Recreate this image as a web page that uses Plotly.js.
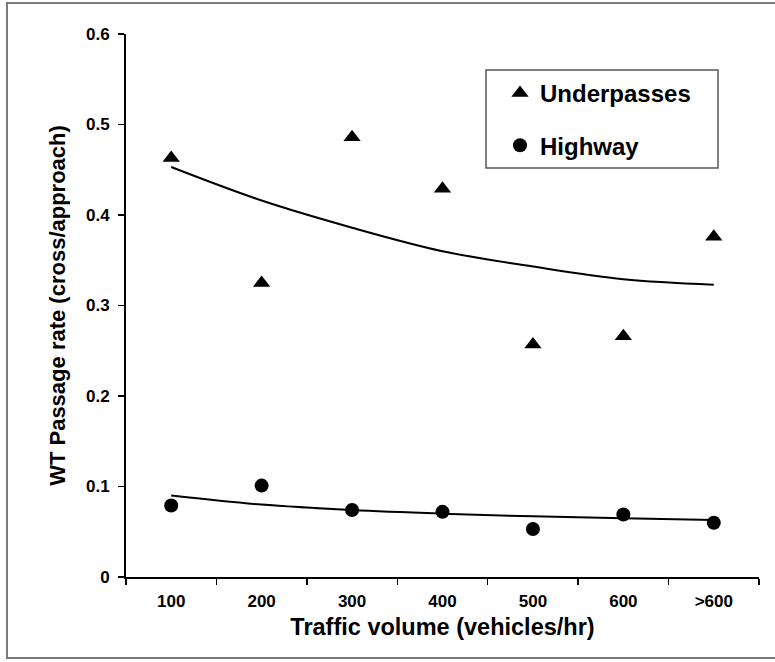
<!DOCTYPE html>
<html>
<head>
<meta charset="utf-8">
<script src="https://cdn.plot.ly/plotly-3.0.1.min.js"></script>
<style>
html,body{margin:0;padding:0;background:#fff;}
#chart{width:775px;height:662px;}
</style>
</head>
<body>
<div id="chart"></div>
<script>
// ---- data ----
var categories = ['100', '200', '300', '400', '500', '600', '>600'];
var underpasses = [0.463, 0.325, 0.486, 0.429, 0.257, 0.266, 0.376];
var highway = [0.079, 0.101, 0.074, 0.072, 0.053, 0.069, 0.060];
var underpassTrend = [0.453, 0.416, 0.386, 0.360, 0.343, 0.329, 0.323];
var highwayTrend = [0.090, 0.080, 0.074, 0.070, 0.067, 0.065, 0.063];
var yTicks = [0, 0.1, 0.2, 0.3, 0.4, 0.5, 0.6];
var yTickLabels = ['0', '0.1', '0.2', '0.3', '0.4', '0.5', '0.6'];

var FONT = 'Arial, "Liberation Sans", Helvetica, sans-serif';

var W = 775, H = 662;
var M = {l: 126, r: 16, t: 34, b: 85};
var pw = W - M.l - M.r, ph = H - M.t - M.b;
function px2x(p) { return (p - M.l) / pw; }
function px2y(p) { return (H - M.b - p) / ph; }

var traces = [
  {
    x: categories, y: underpassTrend, type: 'scatter', mode: 'lines',
    line: {color: '#000', width: 2, shape: 'spline'},
    showlegend: false, hoverinfo: 'skip'
  },
  {
    x: categories, y: highwayTrend, type: 'scatter', mode: 'lines',
    line: {color: '#000', width: 2, shape: 'spline'},
    showlegend: false, hoverinfo: 'skip'
  },
  {
    x: categories, y: underpasses, type: 'scatter', mode: 'markers',
    name: 'Underpasses', legendgroup: 'a',
    marker: {symbol: 'triangle-up', size: 15, color: '#000'}
  },
  {
    x: categories, y: highway, type: 'scatter', mode: 'markers',
    name: 'Highway', legendgroup: 'b',
    marker: {symbol: 'circle', size: 14, color: '#000'}
  }
];

var layout = {
  width: W, height: H,
  margin: M,
  paper_bgcolor: '#fff', plot_bgcolor: '#fff',
  font: {family: FONT, color: '#000'},
  showlegend: true,
  legend: {
    x: px2x(500), y: px2y(71), xanchor: 'left', yanchor: 'top',
    bgcolor: 'rgba(0,0,0,0)', borderwidth: 0,
    font: {family: FONT, size: 24, weight: 'bold', color: '#000'},
    tracegroupgap: 18, traceorder: 'grouped'
  },
  xaxis: {
    type: 'category', range: [-0.5, 6.5],
    showline: true, linecolor: '#000', linewidth: 2,
    ticks: 'outside', tickson: 'boundaries', ticklen: 6, tickwidth: 1.5, tickcolor: '#000',
    showgrid: false, zeroline: false,
    tickfont: {family: FONT, size: 17, weight: 'bold', color: '#000'},
    ticklabelstandoff: 8,
    title: {text: 'Traffic volume (vehicles/hr)', font: {family: FONT, size: 23.5, weight: 'bold', color: '#000'}, standoff: 8}
  },
  yaxis: {
    range: [0, 0.6], tickvals: yTicks, ticktext: yTickLabels,
    showline: true, linecolor: '#000', linewidth: 2,
    ticks: 'outside', ticklen: 6, tickwidth: 1.5, tickcolor: '#000',
    showgrid: false, zeroline: false,
    tickfont: {family: FONT, size: 17, weight: 'bold', color: '#000'},
    ticklabelstandoff: 5,
    title: {text: 'WT Passage rate (cross/approach)', font: {family: FONT, size: 22, weight: 'bold', color: '#000'}, standoff: 14}
  },
  shapes: [
    {type: 'rect', xref: 'paper', yref: 'paper',
      x0: px2x(7), x1: px2x(790), y0: px2y(658), y1: px2y(3),
      line: {color: '#7a7a7a', width: 2}, fillcolor: 'rgba(0,0,0,0)', layer: 'below'},
    {type: 'rect', xref: 'paper', yref: 'paper',
      x0: px2x(486), x1: px2x(718), y0: px2y(168), y1: px2y(70),
      line: {color: '#555', width: 1.5}, fillcolor: '#fff', layer: 'below'}
  ]
};

Plotly.newPlot('chart', traces, layout, {displayModeBar: false, staticPlot: true});
</script>
</body>
</html>
